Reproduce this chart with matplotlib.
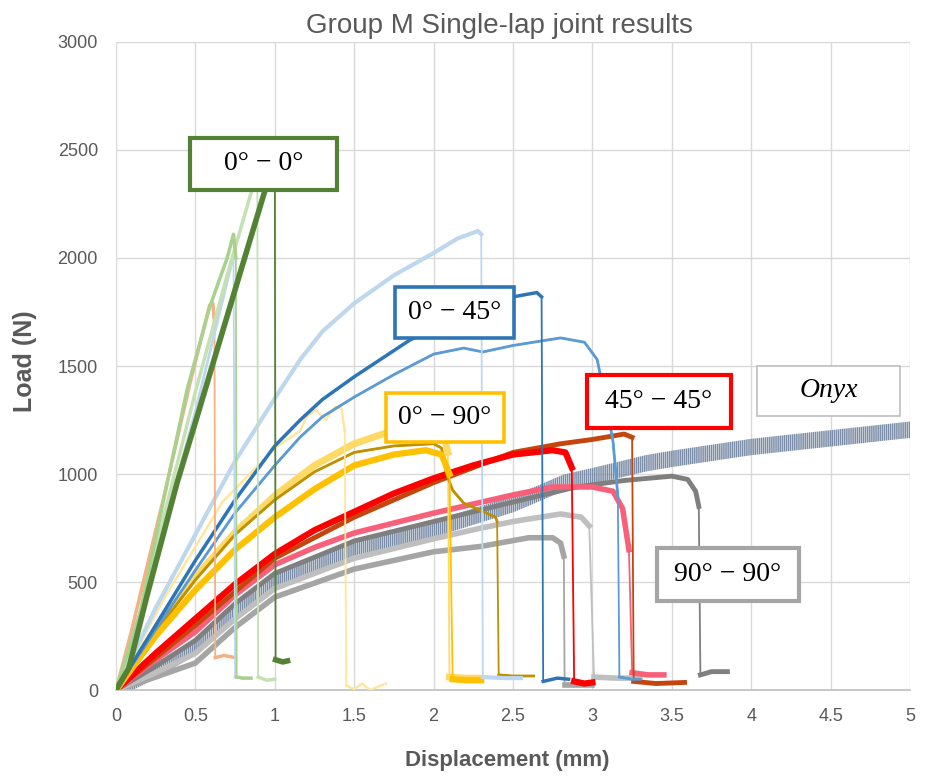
import numpy as np
import matplotlib
matplotlib.use("Agg")
import matplotlib.pyplot as plt
from matplotlib.patches import Rectangle

# ---- values: displacement (mm) / load (N) ----
# 0° - 0° group
orange_x = [0, 0.1, 0.3, 0.466, 0.59, 0.61, 0.62, 0.625, 0.68, 0.75]
orange_y = [0, 280, 890, 1421, 1782, 1790, 1700, 150, 160, 150]
lgreen_x = [0, 0.15, 0.3, 0.447, 0.59, 0.7, 0.74, 0.755, 0.76, 0.8, 0.85]
lgreen_y = [0, 350, 880, 1389, 1773, 2000, 2110, 2000, 60, 55, 55]
vlgreen_x = [0, 0.15, 0.3, 0.5, 0.7, 0.85, 0.89, 0.895, 0.95, 1.0]
vlgreen_y = [0, 330, 800, 1380, 1920, 2300, 2420, 60, 45, 50]
dgreen_x = [0, 0.08, 0.2, 0.384, 0.51, 0.636, 0.825, 0.97, 1.0, 1.005, 1.05, 1.08]
dgreen_y = [0, 100, 450, 958, 1264, 1574, 2037, 2390, 2450, 140, 130, 135]
pblue_x = [0, 0.2, 0.5, 0.74, 0.75, 0.8]
pblue_y = [0, 480, 1290, 2010, 60, 55]

# 0° - 45° group
lblue_x = [0, 0.25, 0.5, 0.75, 1.0, 1.16, 1.3, 1.5, 1.75, 2.0, 2.15, 2.28, 2.3, 2.31,
           2.45, 2.55]
lblue_y = [0, 380, 720, 1060, 1350, 1530, 1660, 1790, 1920, 2023, 2090, 2125, 2110, 60,
           55, 55]
dblue_x = [0, 0.25, 0.5, 0.75, 1.0, 1.16, 1.3, 1.5, 1.85, 2.2, 2.5, 2.65, 2.68, 2.69,
           2.78, 2.85]
dblue_y = [0, 300, 600, 880, 1130, 1250, 1345, 1450, 1620, 1740, 1820, 1840, 1820, 40,
           55, 50]
mblue_x = [0, 0.25, 0.5, 0.75, 1.0, 1.16, 1.3, 1.5, 1.75, 2.0, 2.19, 2.31, 2.5, 2.8,
           2.95, 3.03, 3.08, 3.13, 3.16, 3.17, 3.25, 3.3]
mblue_y = [0, 280, 555, 820, 1040, 1171, 1265, 1356, 1460, 1555, 1583, 1565, 1595, 1630,
           1610, 1530, 1350, 1150, 900, 60, 50, 50]

# 0° - 90° group
pyellow_x = [0, 0.3, 0.67, 1.0, 1.16, 1.2, 1.26, 1.32, 1.38, 1.42, 1.44, 1.45,
             1.5, 1.55, 1.6, 1.65, 1.7]
pyellow_y = [0, 420, 870, 1120, 1200, 1265, 1296, 1250, 1312, 1305, 1200, 20,
             5, 30, 0, 15, 30]
yellow_x = [0, 0.25, 0.5, 0.75, 1.0, 1.25, 1.5, 1.7, 1.9, 2.05, 2.09, 2.1, 2.2, 2.28]
yellow_y = [0, 280, 523, 730, 900, 1040, 1140, 1190, 1230, 1220, 1100, 60, 55, 55]
gold_x = [0, 0.25, 0.5, 0.75, 1.0, 1.25, 1.5, 1.75, 2.0, 2.05, 2.08, 2.12, 2.19, 2.3,
          2.39, 2.4, 2.41, 2.5, 2.63]
gold_y = [0, 270, 510, 720, 880, 1010, 1100, 1130, 1140, 1120, 1004, 925, 865, 830,
          800, 780, 70, 65, 65]
amber_x = [0, 0.25, 0.5, 0.75, 1.0, 1.25, 1.5, 1.75, 1.95, 2.05, 2.1, 2.12, 2.2, 2.3]
amber_y = [0, 250, 463, 650, 800, 930, 1040, 1090, 1110, 1090, 1000, 50, 45, 45]

# 45° - 45° group
red_x = [0, 0.25, 0.5, 0.75, 1.0, 1.25, 1.5, 1.75, 2.0, 2.25, 2.5, 2.75, 2.83, 2.87,
         2.885, 2.95, 3.0]
red_y = [0, 170, 330, 490, 630, 740, 825, 910, 980, 1040, 1090, 1110, 1100, 1030,
         40, 30, 35]
rust_x = [0, 0.5, 1.0, 1.5, 2.0, 2.5, 2.8, 3.0, 3.2, 3.25, 3.26, 3.4, 3.58]
rust_y = [0, 300, 610, 800, 960, 1100, 1140, 1160, 1185, 1170, 40, 30, 35]
pink_x = [0, 0.25, 0.5, 0.75, 1.0, 1.25, 1.5, 2.0, 2.5, 2.75, 3.0, 3.13, 3.19, 3.23,
          3.25, 3.35, 3.45]
pink_y = [0, 140, 270, 440, 580, 660, 727, 819, 903, 940, 940, 920, 840, 650,
          80, 70, 70]

# 90° - 90° group
dgray_x = [0, 0.25, 0.5, 0.75, 1.0, 1.5, 2.0, 2.5, 2.9, 3.2, 3.5, 3.6, 3.65, 3.67,
           3.68, 3.75, 3.85]
dgray_y = [0, 110, 230, 400, 540, 690, 780, 870, 940, 970, 990, 975, 920, 850,
           70, 85, 85]
lgray_x = [0, 0.25, 0.5, 0.75, 1.0, 1.5, 2.0, 2.3, 2.5, 2.8, 2.93, 2.98, 3.01, 3.15, 3.3]
lgray_y = [0, 80, 170, 330, 470, 610, 700, 750, 780, 815, 800, 760, 60, 55, 55]
mgray_x = [0, 0.25, 0.5, 0.75, 1.0, 1.5, 2.0, 2.3, 2.6, 2.75, 2.8, 2.82, 2.825, 2.9, 3.0]
mgray_y = [0, 60, 125, 290, 430, 560, 640, 665, 705, 705, 680, 620, 25, 25, 25]

# Onyx (no failure inside the range)
onyx_x = [0, 0.25, 0.5, 0.75, 1.0, 1.5, 2.0, 2.5, 2.82, 3.0, 3.34, 3.5, 4.0, 4.5, 5.0]
onyx_y = [0, 90, 200, 370, 510, 660, 745, 860, 960, 990, 1050, 1070, 1125, 1165, 1205]

label_names = ["0° − 0°", "0° − 45°", "0° − 90°", "45° − 45°", "Onyx", "90° − 90°"]

x_ticks = [0, 0.5, 1, 1.5, 2, 2.5, 3, 3.5, 4, 4.5, 5]
y_ticks = [0, 500, 1000, 1500, 2000, 2500, 3000]

GRAY_TXT = "#595959"
NARROW = ["Liberation Sans Narrow", "Liberation Sans", "DejaVu Sans"]


def draw_specimen(ax, xs, ys, color, lw, z):
    xs = np.asarray(xs, dtype=float)
    ys = np.asarray(ys, dtype=float)
    k = int(np.argmin(np.diff(ys)))  # the failure step
    ax.plot(xs, ys, color=color, lw=1.3, zorder=z)
    ax.plot(xs[:k + 1], ys[:k + 1], color=color, lw=lw, zorder=z,
            solid_joinstyle="round")
    ax.plot(xs[k + 1:], ys[k + 1:], color=color, lw=lw, zorder=z)


plt.rcParams["hatch.linewidth"] = 1.1
plt.rcParams["hatch.color"] = "#7A8CA6"

fig = plt.figure(figsize=(9.25, 7.76), dpi=100)
ax = fig.add_axes([0.1254, 0.1108, 0.8584, 0.8351])

# onyx: oscillating signal drawn as a hatched band
ox = np.asarray(onyx_x, dtype=float)
oy = np.asarray(onyx_y, dtype=float)
ax.fill_between(ox, oy - 38, oy + 38, facecolor="none", edgecolor="#7A8CA6",
                hatch="||||||||", lw=0, zorder=2)

specimens = [
    (mgray_x, mgray_y, "#A5A5A5", 4.0, 2.1),
    (lgray_x, lgray_y, "#BFBFBF", 4.0, 2.2),
    (dgray_x, dgray_y, "#7F7F7F", 3.5, 2.3),
    (pink_x, pink_y, "#F8607A", 4.0, 2.4),
    (rust_x, rust_y, "#C5450F", 3.5, 2.5),
    (red_x, red_y, "#FF0000", 4.5, 2.6),
    (yellow_x, yellow_y, "#FFD966", 5.0, 2.7),
    (gold_x, gold_y, "#BF9000", 2.0, 2.8),
    (amber_x, amber_y, "#FFC000", 4.5, 2.9),
    (pyellow_x, pyellow_y, "#FFE699", 1.5, 3.0),
    (mblue_x, mblue_y, "#5B9BD5", 2.0, 3.1),
    (dblue_x, dblue_y, "#2E75B6", 2.5, 3.2),
    (lblue_x, lblue_y, "#BDD7EE", 3.0, 3.3),
    (orange_x, orange_y, "#F4B183", 2.5, 3.4),
    (pblue_x, pblue_y, "#BDD7EE", 2.0, 3.45),
    (vlgreen_x, vlgreen_y, "#C5E0B4", 2.5, 3.5),
    (lgreen_x, lgreen_y, "#A9D18E", 2.5, 3.6),
    (dgreen_x, dgreen_y, "#548235", 4.0, 3.7),
]
for xs, ys, col, lw, z in specimens:
    draw_specimen(ax, xs, ys, col, lw, z)

# labelled boxes: (x0, x1, y0, y1) in data units, edge colour, edge width
boxes = [
    (0.466, 1.392, 2315, 2556, "#548235", 3.0),
    (1.757, 2.506, 1630, 1866, "#2E75B6", 2.6),
    (1.700, 2.443, 1148, 1375, "#FFC000", 2.6),
    (2.966, 3.873, 1213, 1458, "#FF0000", 3.0),
    (4.037, 4.937, 1269, 1500, "#BFBFBF", 1.2),
    (3.407, 4.301, 412, 657, "#A5A5A5", 3.0),
]
for name, (x0, x1, y0, y1, ec, elw) in zip(label_names, boxes):
    ax.add_patch(Rectangle((x0, y0), x1 - x0, y1 - y0, facecolor="white",
                           edgecolor=ec, lw=elw, zorder=5))
    ax.text((x0 + x1) / 2, (y0 + y1) / 2, name, ha="center", va="center",
            family=["Liberation Serif", "DejaVu Serif"], fontsize=20,
            style="italic" if name == "Onyx" else "normal", zorder=6)

ax.set_xlim(0, 5)
ax.set_ylim(0, 3000)
ax.set_xticks(x_ticks)
ax.set_xticklabels([f"{t:g}" for t in x_ticks])
ax.set_yticks(y_ticks)
ax.grid(True, color="#D9D9D9", lw=1.0, zorder=0)
ax.set_axisbelow(True)
for side in ["left", "right", "top"]:
    ax.spines[side].set_visible(False)
ax.spines["bottom"].set_color("#BFBFBF")
ax.spines["bottom"].set_linewidth(1.2)
ax.tick_params(length=0, labelcolor=GRAY_TXT, labelsize=13)
ax.tick_params(axis="x", pad=13)
ax.tick_params(axis="y", pad=13)
for lab in ax.get_xticklabels() + ax.get_yticklabels():
    lab.set_family(NARROW)

fig.text(0.54, 0.966, "Group M Single-lap joint results", ha="center", va="center",
         fontsize=20, color=GRAY_TXT, family=NARROW)
fig.text(0.027, 0.535, "Load (N)", rotation=90, ha="center", va="center",
         fontsize=18, fontweight="bold", color=GRAY_TXT, family=NARROW)
fig.text(0.548, 0.02, "Displacement (mm)", ha="center", va="center",
         fontsize=16, fontweight="bold", color=GRAY_TXT, family=NARROW)

fig.savefig("out.png", dpi=100)
